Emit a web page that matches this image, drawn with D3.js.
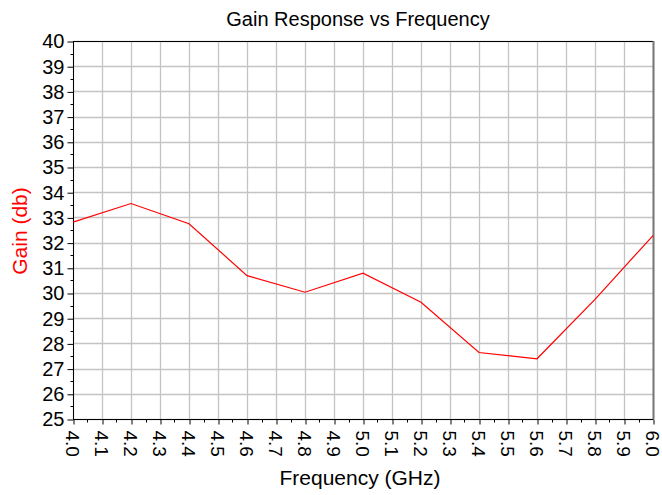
<!DOCTYPE html>
<html><head><meta charset="utf-8">
<script src="https://cdn.jsdelivr.net/npm/d3@7"></script>
<style>html,body{margin:0;padding:0;background:#fff;}svg{display:block;font-family:"Liberation Sans",Arial,sans-serif;}</style>
</head><body>
<svg id="c" width="662" height="495"></svg>
<script>
const freq = [4.0, 4.2, 4.4, 4.6, 4.8, 5.0, 5.2, 5.4, 5.6, 5.8, 6.0];
const gain = [32.81, 33.55, 32.75, 30.69, 30.03, 30.79, 29.63, 27.64, 27.39, 29.75, 32.28];
const xTicks = [4.0,4.1,4.2,4.3,4.4,4.5,4.6,4.7,4.8,4.9,5.0,5.1,5.2,5.3,5.4,5.5,5.6,5.7,5.8,5.9,6.0];
const yTicks = [25,26,27,28,29,30,31,32,33,34,35,36,37,38,39,40];
const title = "Gain Response vs Frequency";
const xLabel = "Frequency (GHz)";
const yLabel = "Gain (db)";

const svg = d3.select("#c");
const L = 73, R = 653, T = 41, B = 419;
const x = d3.scaleLinear().domain([4.0, 6.0]).range([L, R]);
const y = d3.scaleLinear().domain([25, 40]).range([B, T]);

// grid
const g = svg.append("g");
g.selectAll("line.vx").data(xTicks).join("line")
  .attr("x1", d => Math.round(x(d)) + 0.5).attr("x2", d => Math.round(x(d)) + 0.5)
  .attr("y1", T).attr("y2", B).attr("stroke", "#c4c4c4").attr("stroke-width", 1.3);
g.selectAll("line.hy").data(yTicks).join("line")
  .attr("y1", d => Math.round(y(d)) + 0.5).attr("y2", d => Math.round(y(d)) + 0.5)
  .attr("x1", L).attr("x2", R).attr("stroke", "#c4c4c4").attr("stroke-width", 1.3);

// frame
svg.append("line").attr("x1", L).attr("x2", R).attr("y1", T + 0.5).attr("y2", T + 0.5).attr("stroke", "#000");
svg.append("line").attr("x1", R + 0.5).attr("x2", R + 0.5).attr("y1", T).attr("y2", B).attr("stroke", "#777").attr("stroke-width", 2);

// y axis
const yAxis = d3.axisLeft(y).tickValues(yTicks).tickSize(6).tickFormat(d3.format("d"));
const ya = svg.append("g").attr("transform", `translate(${L + 0.5},0.5)`).call(yAxis);
ya.select(".domain").attr("stroke", "#000").attr("d", `M0,${T}V${B}`);
ya.selectAll("text").attr("font-size", 20).attr("fill", "#000").attr("x", -9)
  .attr("font-family", "Liberation Sans, Arial, sans-serif");
const yMinor = d3.range(25.5, 40, 1);
ya.selectAll("line.minor").data(yMinor).join("line").attr("class", "minor")
  .attr("x1", -3).attr("x2", 0).attr("y1", d => Math.round(y(d))).attr("y2", d => Math.round(y(d))).attr("stroke", "#000");

// x axis
const xAxis = d3.axisBottom(x).tickValues(xTicks).tickSize(5).tickFormat(d3.format(".1f"));
const xa = svg.append("g").attr("transform", `translate(0.5,${B + 0.5})`).call(xAxis);
xa.select(".domain").attr("stroke", "#000").attr("d", `M${L},0H${R}`);
xa.selectAll("text").attr("font-size", 19).attr("fill", "#000")
  .attr("font-family", "Liberation Sans, Arial, sans-serif")
  .attr("transform", "rotate(90)").attr("text-anchor", "start")
  .attr("x", 11).attr("y", 0).attr("dy", "0.42em");
const xMinor = d3.range(4.05, 6.0, 0.1);
xa.selectAll("line.minor").data(xMinor).join("line").attr("class", "minor")
  .attr("y1", 0).attr("y2", 3).attr("x1", d => Math.round(x(d))).attr("x2", d => Math.round(x(d))).attr("stroke", "#000");

// line
const line = d3.line().x((d, i) => x(freq[i])).y(d => y(d));
svg.append("path").datum(gain).attr("d", line).attr("fill", "none").attr("stroke", "#ff0000").attr("stroke-width", 1.2);

// texts
svg.append("text").attr("x", 358).attr("y", 26).attr("text-anchor", "middle").attr("font-size", 20).attr("fill", "#000").text(title);
svg.append("text").attr("x", 360).attr("y", 485).attr("text-anchor", "middle").attr("font-size", 21).attr("fill", "#000").text(xLabel);
svg.append("text").attr("transform", "translate(27,231) rotate(-90)").attr("text-anchor", "middle").attr("font-size", 21).attr("fill", "#ff0000").text(yLabel);
</script>
</body></html>
